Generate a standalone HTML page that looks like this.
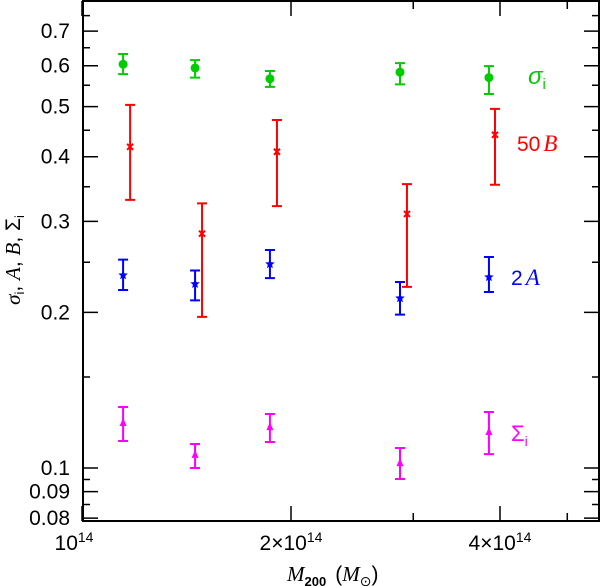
<!DOCTYPE html>
<html><head><meta charset="utf-8"><style>
html,body{margin:0;padding:0;background:#fff;}
svg{display:block;}
text{font-family:"Liberation Sans",sans-serif;}
</style></head><body>
<svg id="chart" width="603" height="586" viewBox="0 0 603 586" xmlns="http://www.w3.org/2000/svg">
<g id="axes"></g>
<g id="marks"></g>
<text x="528" y="84" fill="#00cc00" font-family="Liberation Serif" font-style="italic" font-size="24">σ<tspan font-style="normal" font-family="Liberation Sans" font-size="15" dy="5">i</tspan></text>
<text x="517" y="151" fill="#ff0000" font-size="21">50<tspan font-family="Liberation Serif" font-style="italic" dx="3" font-size="23">B</tspan></text>
<text x="511" y="285" fill="#0000ff" font-size="21">2<tspan font-family="Liberation Serif" font-style="italic" dx="3" font-size="23">A</tspan></text>
<text x="511" y="441" fill="#ff00ff" font-size="22">Σ<tspan font-size="14" dy="5">i</tspan></text>
<text x="287" y="581" font-size="21"><tspan font-family="Liberation Serif" font-style="italic">M</tspan><tspan font-size="13" font-weight="bold" dy="5">200</tspan><tspan dy="-5" dx="9">(</tspan><tspan font-family="Liberation Serif" font-style="italic">M</tspan><tspan font-size="14" dy="5">⊙</tspan><tspan dy="-5">)</tspan></text>
<text transform="translate(20,260) rotate(-90)" text-anchor="middle" font-size="21"><tspan font-family="Liberation Serif" font-style="italic">σ</tspan><tspan font-size="13" dy="4">i</tspan><tspan dy="-4">, </tspan><tspan font-family="Liberation Serif" font-style="italic">A</tspan><tspan>, </tspan><tspan font-family="Liberation Serif" font-style="italic">B</tspan><tspan>, Σ</tspan><tspan font-size="13" dy="4">i</tspan></text>
</svg>
<script>
// x in units of 1e14 Msun
const massSigma = [1.146, 1.455, 1.865, 2.871, 3.856];
const massB = [1.173, 1.489, 1.909, 2.938, 3.934];
const sigmaVal = [0.604, 0.594, 0.566, 0.583, 0.569];
const sigmaLo = [0.578, 0.569, 0.546, 0.552, 0.529];
const sigmaHi = [0.632, 0.615, 0.586, 0.607, 0.599];
const bVal = [0.418, 0.284, 0.409, 0.310, 0.441];
const bLo = [0.330, 0.196, 0.321, 0.224, 0.353];
const bHi = [0.504, 0.325, 0.471, 0.354, 0.495];
const aVal = [0.236, 0.227, 0.248, 0.213, 0.234];
const aLo = [0.221, 0.211, 0.233, 0.198, 0.219];
const aHi = [0.253, 0.241, 0.264, 0.229, 0.256];
const capSigVal = [0.1222, 0.1060, 0.1200, 0.1022, 0.1174];
const capSigLo = [0.1128, 0.1000, 0.1123, 0.0952, 0.1064];
const capSigHi = [0.1312, 0.1113, 0.1272, 0.1093, 0.1283];
const yMajor = [0.08, 0.09, 0.1, 0.2, 0.3, 0.4, 0.5, 0.6, 0.7];
const yMinor = [0.085, 0.095, 0.15, 0.25, 0.35, 0.45, 0.55, 0.65, 0.75];
const xMajor = [1, 2, 4];
const xMajorLabels = ["10", "2×10", "4×10"];
const xMinor = [3, 5];

const L=83, R=599, T=1, B=521;
const X0=1, PXPER2=209;
const Y0=0.1, Y0PX=468, PXPERDEC=517;
const ns="http://www.w3.org/2000/svg";
function xs(m){return L+(Math.log2(m/X0))*PXPER2 - 1;}
function ys(v){return Y0PX-Math.log10(v/Y0)*PXPERDEC;}
function mk(tag,attrs,parent){const e=document.createElementNS(ns,tag);for(const k in attrs)e.setAttribute(k,attrs[k]);parent.appendChild(e);return e;}
const axes=document.getElementById('axes'), marks=document.getElementById('marks');

const frame=mk('rect',{x:L,y:T,width:R-L,height:B-T,fill:'none',stroke:'#000','stroke-width':2},axes);



yMajor.forEach(v=>{const y=ys(v);
 const t=mk('path',{d:`M${L},${y}H${L+15}M${R},${y}H${R-15}`,stroke:'#000','stroke-width':1.5},axes);
 
 
 const lb=mk('text',{x:L-13,y:y+7,'text-anchor':'end','font-size':21},axes);lb.textContent=String(v);
 
 
});
yMinor.forEach(v=>{const y=ys(v);
 const t=mk('path',{d:`M${L},${y}H${L+7}M${R},${y}H${R-7}`,stroke:'#000','stroke-width':1.5},axes);
 
 
});
xMajor.forEach((m,i)=>{const x=xs(m);
 const t=mk('path',{d:`M${x},${B}V${B-15}M${x},${T}V${T+15}`,stroke:'#000','stroke-width':1.5},axes);
 
 
 const lb=mk('text',{x:x+(i===0?-8:0),y:B+29,'text-anchor':'middle','font-size':21},axes);
 lb.textContent=xMajorLabels[i];
 const sp=mk('tspan',{'font-size':14,dy:-8},lb);sp.textContent='14';
 
 
});
xMinor.forEach(m=>{const x=xs(m);
 const t=mk('path',{d:`M${x},${B}V${B-8}M${x},${T}V${T+8}`,stroke:'#000','stroke-width':1.5},axes);
 
 
});

function errbar(x,lo,hi,col){
 const y1=ys(lo),y2=ys(hi);
 const p=mk('path',{d:`M${x},${y1}V${y2}M${x-5},${y1}H${x+5}M${x-5},${y2}H${x+5}`,stroke:col,'stroke-width':2,fill:'none'},marks);
 
 
}
function star(cx,cy,r){let d='';for(let i=0;i<10;i++){const a=-Math.PI/2+i*Math.PI/5;const rr=i%2?r*0.45:r;d+=(i?'L':'M')+(cx+rr*Math.cos(a)).toFixed(2)+','+(cy+rr*Math.sin(a)).toFixed(2);}return d+'Z';}

massSigma.forEach((m,i)=>{const x=xs(m);
 errbar(x,sigmaLo[i],sigmaHi[i],'#00cc00');
 const c=mk('circle',{cx:x,cy:ys(sigmaVal[i]),r:4.5,fill:'#00cc00'},marks);
 
 
});
massB.forEach((m,i)=>{const x=xs(m),y=ys(bVal[i]);
 errbar(x,bLo[i],bHi[i],'#ff0000');
 const c=mk('path',{d:`M${x-3},${y-3}L${x+3},${y+3}M${x-3},${y+3}L${x+3},${y-3}`,stroke:'#ff0000','stroke-width':2},marks);
 
 
});
massSigma.forEach((m,i)=>{const x=xs(m);
 errbar(x,aLo[i],aHi[i],'#0000ff');
 const c=mk('path',{d:star(x,ys(aVal[i]),5),fill:'#0000ff'},marks);
 
 
});
massSigma.forEach((m,i)=>{const x=xs(m),y=ys(capSigVal[i]);
 errbar(x,capSigLo[i],capSigHi[i],'#ff00ff');
 const c=mk('path',{d:`M${x},${y-5}L${x+3.5},${y+3}L${x-3.5},${y+3}Z`,fill:'#ff00ff'},marks);
 
 
});
</script>
</body></html>
